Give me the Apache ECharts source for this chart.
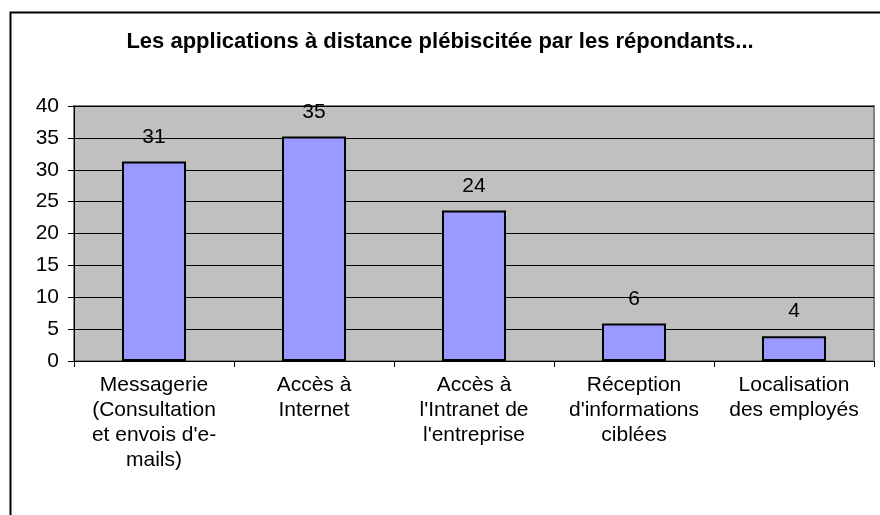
<!DOCTYPE html>
<html>
<head>
<meta charset="utf-8">
<script src="https://cdn.jsdelivr.net/npm/echarts@6/dist/echarts.min.js"></script>
<style>html,body{margin:0;padding:0;background:#fff;}#c{width:880px;height:515px;}</style>
</head>
<body>
<div id="c"></div>
<script>
var titleText = "Les applications à distance plébiscitée par les répondants...";
var categories = [
  "Messagerie\n(Consultation\net envois d'e-\nmails)",
  "Accès à\nInternet",
  "Accès à\nl'Intranet de\nl'entreprise",
  "Réception\nd'informations\nciblées",
  "Localisation\ndes employés"
];
var values = [31.3, 35.2, 23.6, 5.9, 3.9];
var yTicks = [0, 5, 10, 15, 20, 25, 30, 35, 40];

var chart = echarts.init(document.getElementById('c'), null, {renderer: 'canvas'});
var font = "'Liberation Sans', Arial, sans-serif";
chart.setOption({
  animation: false,
  backgroundColor: '#ffffff',
  graphic: [{
    type: 'rect', left: 8, top: 10, z: -10,
    shape: {width: 900, height: 520},
    style: {fill: 'none', stroke: '#000', lineWidth: 2}
  }],
  title: {
    text: titleText, left: 'center', top: 26,
    textStyle: {fontFamily: font, fontSize: 22, fontWeight: 'bold', color: '#000'}
  },
  grid: {left: 74, right: 6, top: 106, bottom: 154, show: true,
    backgroundColor: '#C0C0C0', borderColor: '#808080', borderWidth: 2},
  xAxis: {
    type: 'category', data: categories,
    axisLine: {lineStyle: {color: '#000', width: 1}},
    axisTick: {show: true, alignWithLabel: false, length: 6, lineStyle: {color: '#000'}},
    axisLabel: {fontFamily: font, fontSize: 21, color: '#000', lineHeight: 25, margin: 12, interval: 0}
  },
  yAxis: {
    type: 'value', min: yTicks[0], max: yTicks[yTicks.length - 1], interval: 5,
    axisLine: {show: true, lineStyle: {color: '#000', width: 1}},
    axisTick: {show: true, length: 6, lineStyle: {color: '#000'}},
    axisLabel: {fontFamily: font, fontSize: 21, color: '#000', margin: 15},
    splitLine: {show: true, lineStyle: {color: '#000', width: 1}}
  },
  series: [{
    type: 'bar', data: values, barWidth: '40%',
    itemStyle: {color: '#9999FF', borderColor: '#000', borderWidth: 2},
    label: {show: true, position: 'top', distance: 14, fontFamily: font, fontSize: 21, color: '#000',
      formatter: function (p) { return Math.round(p.value); }}
  }]
});
</script>
</body>
</html>
